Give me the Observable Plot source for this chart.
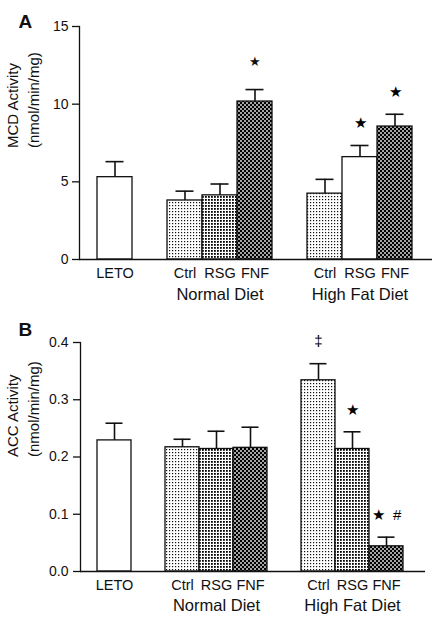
<!DOCTYPE html>
<html>
<head>
<meta charset="utf-8">
<script src="https://cdn.jsdelivr.net/npm/d3@7"></script>
<script src="https://cdn.jsdelivr.net/npm/@observablehq/plot@0.6"></script>
<style>
  html, body { margin: 0; padding: 0; background: #fff; }
  #chart { width: 437px; }
  #chart svg { display: block; font-family: "Liberation Sans", Arial, Helvetica, sans-serif; }
</style>
</head>
<body>
<div id="chart"></div>
<script>
// ---------- data ----------
const groups     = ["LETO", "Normal Diet", "Normal Diet", "Normal Diet", "High Fat Diet", "High Fat Diet", "High Fat Diet"];
const treatments = ["LETO", "Ctrl", "RSG", "FNF", "Ctrl", "RSG", "FNF"];
const groupLabels = ["Normal Diet", "High Fat Diet"];

const mcdMean = [5.30, 3.80, 4.13, 10.17, 4.24, 6.59, 8.56];
const mcdSem  = [1.00, 0.60, 0.73, 0.77, 0.92, 0.75, 0.79];
const mcdSig  = ["", "", "", "*", "", "★", "★"];
const mcdTicks = [0, 5, 10, 15];

const accMean = [0.229, 0.217, 0.214, 0.216, 0.334, 0.214, 0.044];
const accSem  = [0.030, 0.014, 0.031, 0.036, 0.029, 0.030, 0.016];
const accSig  = ["", "", "", "", "‡", "★", "★  #"];
const accTicks = [0, 0.1, 0.2, 0.3, 0.4];

// ---------- styles ----------
const patternOf = {
  A: {"LETO|LETO": "white", "Normal Diet|Ctrl": "light", "Normal Diet|RSG": "dots", "Normal Diet|FNF": "check",
      "High Fat Diet|Ctrl": "light", "High Fat Diet|RSG": "white", "High Fat Diet|FNF": "check"},
  B: {"LETO|LETO": "white", "Normal Diet|Ctrl": "light", "Normal Diet|RSG": "dots", "Normal Diet|FNF": "check",
      "High Fat Diet|Ctrl": "light", "High Fat Diet|RSG": "dots", "High Fat Diet|FNF": "check"}
};

function keyOf(g, t) { return g === "LETO" ? "LETO" : g + "|" + t; }
const keyDomain = ["LETO", "gap1",
  "Normal Diet|Ctrl", "Normal Diet|RSG", "Normal Diet|FNF", "gap2",
  "High Fat Diet|Ctrl", "High Fat Diet|RSG", "High Fat Diet|FNF"];

function defsFor(id) {
  return `
  <pattern id="light${id}" width="3" height="3" patternUnits="userSpaceOnUse">
    <rect width="3" height="3" fill="#fff"/><rect x="1" y="1" width="1.2" height="1.2" fill="#111"/>
  </pattern>
  <pattern id="dots${id}" width="3" height="3" patternUnits="userSpaceOnUse">
    <rect width="3" height="3" fill="#fff"/><rect x="1" y="1" width="1.8" height="1.8" fill="#000"/>
  </pattern>
  <pattern id="check${id}" width="4" height="4" patternUnits="userSpaceOnUse">
    <rect width="4" height="4" fill="#000"/><rect x="0.2" y="0.2" width="1.6" height="1.6" fill="#fff"/><rect x="2.2" y="2.2" width="1.6" height="1.6" fill="#fff"/>
  </pattern>`;
}

function panel(cfg) {
  const rows = groups.map((g, i) => ({
    key: keyOf(g, treatments[i]),
    group: g,
    label: treatments[i],
    mean: cfg.mean[i],
    top: cfg.mean[i] + cfg.sem[i],
    sig: cfg.sig[i]
  }));
  const fillFor = d => {
    const p = patternOf[cfg.id][d.key === "LETO" ? "LETO|LETO" : d.key];
    return p === "white" ? "#fff" : `url(#${p}${cfg.id})`;
  };
  const groupRows = groupLabels.map(g => ({key: g + "|RSG", label: g}));
  const svg = Plot.plot({
    width: 437,
    height: cfg.height,
    marginTop: cfg.mt, marginBottom: cfg.mb, marginLeft: cfg.ml, marginRight: cfg.mr,
    style: {fontFamily: '"Liberation Sans", Arial, sans-serif', fontSize: "14px", color: "#111", background: "#fff", overflow: "visible"},
    x: {type: "band", domain: keyDomain, paddingInner: 0, paddingOuter: cfg.po, align: cfg.align, axis: null},
    y: {domain: cfg.domain, axis: null},
    color: {type: "identity"},
    marks: [
      Plot.axisY({ticks: cfg.ticks, tickFormat: cfg.fmt, tickSize: 7, tickPadding: cfg.tp, fontSize: 14, strokeWidth: 1.3}),
      Plot.barY(rows, {x: "key", y: "mean", fill: fillFor, stroke: "#111", strokeWidth: 1.3, inset: 0}),
      Plot.ruleX(rows, {x: "key", y1: "mean", y2: "top", stroke: "#111", strokeWidth: 1.6}),
      Plot.tickY(rows, {x: "key", y: "top", stroke: "#111", strokeWidth: 1.6, insetLeft: 8.5, insetRight: 8.5}),
      Plot.ruleY([0], {stroke: "#111", strokeWidth: 1.3}),
      Plot.frame({anchor: "left", stroke: "#111", strokeWidth: 1.3}),
      Plot.text(rows.filter(d => d.sig === "*"), {x: "key", y: "top", text: () => "★", dy: -28, fontSize: 13, fill: "#111"}),
      Plot.text(rows.filter(d => d.sig && d.sig !== "*"), {x: "key", y: "top", text: "sig", dy: cfg.sigDy, fontSize: 15, fill: "#000"}),
      Plot.text(rows, {x: "key", y: 0, text: "label", dy: 14, fontSize: 14.5, fill: "#111"}),
      Plot.text(groupRows, {x: "key", y: 0, text: "label", dy: cfg.gdy, fontSize: 16.5, fill: "#111"}),
      Plot.text([cfg.ylab1], {frameAnchor: "left", text: d => d, rotate: -90, dx: 13 - cfg.ml, dy: cfg.ldy, fontSize: 15, fill: "#111"}),
      Plot.text([cfg.ylab2], {frameAnchor: "left", text: d => d, rotate: -90, dx: 34 - cfg.ml, dy: cfg.ldy, fontSize: 15, fill: "#111"}),
      Plot.text([cfg.id], {frameAnchor: "top-left", text: d => d, textAnchor: "start", dx: 18 - cfg.ml, dy: cfg.letterDy, fontSize: 19, fontWeight: "bold", fill: "#111"})
    ]
  });
  d3.select(svg).insert("defs", ":first-child").html(defsFor(cfg.id));
  return svg;
}

const svgA = panel({
  id: "A", height: 310, mt: 26, mb: 51, ml: 79, mr: 5, po: 0.53, align: 0.47,
  mean: mcdMean, sem: mcdSem, sig: mcdSig, domain: [0, 15], ticks: mcdTicks, fmt: d3.format("d"), tp: 4,
  sigDy: -22, gdy: 35.7, ylab1: "MCD Activity", ylab2: "(nmol/min/mg)", ldy: 5, letterDy: -12
});
const svgB = panel({
  id: "B", height: 313, mt: 32, mb: 52, ml: 80, mr: 12, po: 0.52, align: 0.44,
  mean: accMean, sem: accSem, sig: accSig, domain: [0, 0.4], ticks: accTicks, fmt: d3.format(".1f"), tp: 5,
  sigDy: -22, gdy: 34.3, ylab1: "ACC Activity", ylab2: "(nmol/min/mg)", ldy: 0, letterDy: -20
});
document.getElementById("chart").append(svgA, svgB);
</script>
</body>
</html>
